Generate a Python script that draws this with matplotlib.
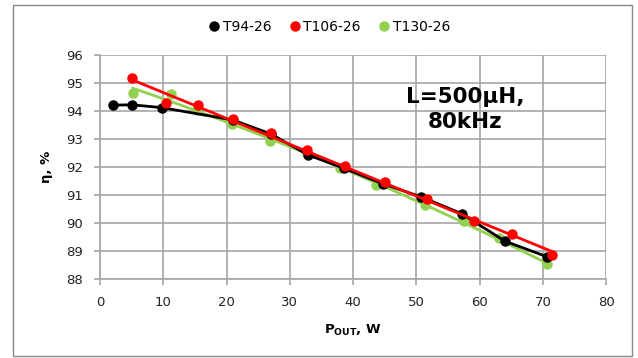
import numpy as np
import matplotlib
matplotlib.use("Agg")
import matplotlib.pyplot as plt
from matplotlib.lines import Line2D
from matplotlib.patches import Rectangle

# measured data, P_out (W) vs efficiency (%)
p_t94 = [2.1, 5.1, 9.8, 21.0, 27.0, 32.9, 38.5, 44.7, 50.8, 57.2, 64.0, 70.6]
eff_t94 = [94.21, 94.22, 94.12, 93.68, 93.18, 92.43, 91.96, 91.40, 90.93, 90.33, 89.35, 88.80]

p_t106 = [5.1, 10.4, 15.5, 21.0, 27.0, 32.8, 38.7, 45.0, 51.7, 59.1, 65.2, 71.4]
eff_t106 = [95.18, 94.30, 94.20, 93.70, 93.20, 92.60, 92.04, 91.47, 90.86, 90.07, 89.60, 88.86]

p_t130 = [5.2, 11.2, 15.3, 20.8, 26.8, 32.7, 37.9, 43.7, 51.4, 57.6, 63.1, 70.6]
eff_t130 = [94.63, 94.60, 94.04, 93.52, 92.93, 92.50, 91.95, 91.36, 90.64, 90.07, 89.45, 88.52]

labels = ["T94-26", "T106-26", "T130-26"]
colors = ["#000000", "#ff0000", "#92d050"]

fig = plt.figure(figsize=(6.38, 3.58), dpi=100)
ax = fig.add_axes([0.1567, 0.2207, 0.7933, 0.6257])

# chart border
fig.patches.append(Rectangle((13 / 638, 2 / 358), 619 / 638, 351 / 358,
                             transform=fig.transFigure, fill=False,
                             edgecolor="#888888", linewidth=1.0))

# black: line through the points
ax.plot(p_t94, eff_t94, color=colors[0], lw=2.0, marker="o", ms=6.5, zorder=3)

# red & green: trendlines (red linear, green slight curve)
for px, py, c, z, deg in [(p_t130, eff_t130, colors[2], 2, 2), (p_t106, eff_t106, colors[1], 4, 1)]:
    ax.plot(px, py, "o", color=c, ms=6.5, zorder=z)
    coef = np.polyfit(px, py, deg)
    xs = np.linspace(px[0], px[-1], 50)
    ax.plot(xs, np.polyval(coef, xs), color=c, lw=2.0, zorder=z)

ax.set_xlim(0, 80)
ax.set_ylim(88, 96)
ax.set_xticks(range(0, 81, 10))
ax.set_yticks(range(88, 97))
ax.grid(True, color="#a6a6a6", lw=1.2)
ax.set_axisbelow(True)
for s in ["top", "right"]:
    ax.spines[s].set_visible(False)
for s in ["left", "bottom"]:
    ax.spines[s].set_color("#a6a6a6")
    ax.spines[s].set_linewidth(1.2)
ax.tick_params(colors="#a6a6a6", labelcolor="#222222", labelsize=9.5,
               length=4, width=1.2, pad=8)

ax.set_xlabel(r"$\mathbf{P_{OUT}}$, W", fontsize=9.5, fontweight="bold", labelpad=10)
ax.set_ylabel("η, %", fontsize=9.5, fontweight="bold", labelpad=10)

ax.text(57.7, 94.05, "L=500µH,\n80kHz", ha="center", va="center",
        fontsize=15.5, fontweight="bold", linespacing=1.3)

handles = [Line2D([], [], ls="none", marker="o", color=c, ms=6.5) for c in colors]
fig.legend(handles, labels, loc="center", bbox_to_anchor=(0.515, 0.925), ncol=3,
           frameon=False, fontsize=10, handletextpad=0.1, columnspacing=1.2,
           handlelength=1.0)

fig.savefig("out.png", dpi=100)
